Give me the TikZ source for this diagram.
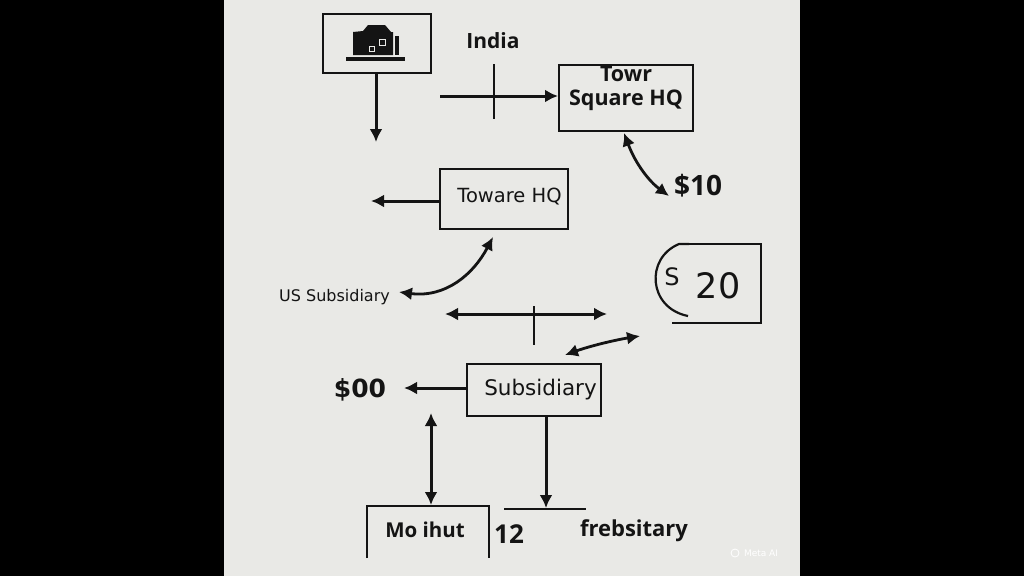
\documentclass[tikz,border=0pt]{standalone}
\usepackage{fontspec}
\setmainfont{DejaVu Sans}
\newfontfamily\opb[BoldFont={Open Sans Bold}]{Open Sans}
\usetikzlibrary{arrows.meta,calc}
\definecolor{panel}{HTML}{E9E9E6}
\definecolor{ink}{HTML}{141414}
\tikzset{
  boxA/.style={draw=ink,line width=1.8pt,fill=none,inner sep=0pt,anchor=north west},
  lbl/.style={text=ink,inner sep=0pt,anchor=center},
  conn/.style={draw=ink,line width=3pt,-{Latex[length=13pt,width=13pt]}},
  conn2/.style={draw=ink,line width=3pt,{Latex[length=13pt,width=13pt]}-{Latex[length=13pt,width=13pt]}},
  curve2/.style={draw=ink,line width=2.8pt,{Latex[length=13pt,width=13pt]}-{Latex[length=13pt,width=13pt]}},
  rule/.style={draw=ink,line width=2.9pt},
  ruleB/.style={draw=ink,line width=2.6pt},
}
\begin{document}
\begin{tikzpicture}[x=1pt,y=-1pt]
\useasboundingbox (0,0) rectangle (1024,576);
\fill[black] (0,0) rectangle (1024,576);
\fill[panel] (224,0) rectangle (800,576);
% top icon box
\node[boxA,minimum width=108pt,minimum height=59pt,line width=2.4pt] (icon) at (322,13) {};
\fill[ink] (353,32) -- (363,31) -- (368,25) -- (385,25) -- (391,32) -- (393,32) -- (393,55) -- (353,55) -- cycle;
\fill[ink] (395,36) rectangle (399,55);
\fill[ink] (346,57) rectangle (405,61);
\draw[panel,line width=1pt] (369,46) rectangle (374,51);
\draw[panel,line width=1pt] (379,39) rectangle (385,45);
\coordinate (iconEnd) at (376,142);
\draw[conn] (icon.south -| iconEnd) -- (iconEnd);
% India
\node[lbl,font=\opb\fontsize{21}{24}\selectfont\bfseries] (india) at (493,41) {India};
\coordinate (cA) at (440,96);
\node[boxA,minimum width=134pt,minimum height=66pt] (tower) at (558,64) {};
\draw[conn] (cA) -- (tower.west |- cA);
\coordinate (tA) at (494,64); \coordinate (tB) at (494,119);
\draw[rule] (tA) -- (tB);
\node[lbl,align=center,font=\opb\fontsize{21.5}{24}\selectfont\bfseries] (towerT) at (626,88) {Towr\\Square HQ};
% $10
\node[lbl,font=\opb\fontsize{28}{30}\selectfont\bfseries] (ten) at (698,186) {\$10};
\coordinate (tenA) at (669,196); \coordinate (towA) at (624,133);
\draw[curve2] (towA) .. controls (636,165) and (650,182) .. (tenA);
% Toware HQ
\node[boxA,minimum width=128pt,minimum height=60pt] (toware) at (439,168) {};
\node[lbl,font=\fontsize{19.5}{22}\selectfont] (towareT) at (509.5,197) {Toware HQ};
\coordinate (wA) at (371,201);
\draw[conn] (toware.west |- wA) -- (wA);
% US Subsidiary
\node[lbl,font=\fontsize{16}{19}\selectfont] (us) at (334.5,297) {US Subsidiary};
\coordinate (uA) at (399,292); \coordinate (uB) at (493,237);
\draw[curve2] (uA) .. controls (445,298) and (473,275) .. (uB);
% S 20
\coordinate (sA) at (689,244); \coordinate (sB) at (761,244); \coordinate (sC) at (761,323); \coordinate (sD) at (672,323);
\draw[ink,line width=2.6pt] (sA) -- (sB) -- (sC) -- (sD);
\draw[ink,line width=2.2pt] (sA) -- (679,244) .. controls (645,258) and (648,308) .. (688,316);
\node[lbl,font=\fontsize{24}{27}\selectfont] (sT) at (672,277) {S};
\node[lbl,font=\fontsize{35}{38}\selectfont] (twenty) at (718,286) {20};
% mid double arrow
\coordinate (mA) at (445,314); \coordinate (mB) at (607,314);
\draw[conn2] (mA) -- (mB);
\coordinate (mC) at (534,306); \coordinate (mD) at (534,345);
\draw[rule] (mC) -- (mD);
\coordinate (dA) at (565,355); \coordinate (dB) at (640,336);
\draw[curve2] (dA) .. controls (590,346) and (615,340) .. (dB);
% Subsidiary
\node[boxA,minimum width=134pt,minimum height=52pt] (sub) at (466,363) {};
\node[lbl,font=\fontsize{21.5}{24}\selectfont] (subT) at (540.5,390) {Subsidiary};
\node[lbl,font=\fontsize{25}{28}\selectfont\bfseries] (zero) at (360,390) {\$00};
\coordinate (zA) at (404,388);
\draw[conn] (sub.west |- zA) -- (zA);
% vertical arrows
\coordinate (vA) at (431,413); \coordinate (vB) at (431,505);
\draw[conn2] (vA) -- (vB);
\coordinate (wB) at (546,508);
\draw[conn] (sub.south -| wB) -- (wB);
% bottom
\coordinate (bA) at (367,558); \coordinate (bB) at (367,506); \coordinate (bC) at (489,506); \coordinate (bD) at (489,558);
\draw[ruleB] (bA) -- (bB) -- (bC) -- (bD);
\node[lbl,font=\opb\fontsize{20.5}{24}\selectfont\bfseries] (mo) at (425,530) {Mo ihut};
\node[lbl,font=\opb\fontsize{26}{29}\selectfont\bfseries] (twelve) at (509,534) {12};
\coordinate (rA) at (504,509); \coordinate (rB) at (586,509);
\draw[ruleB] (rA) -- (rB);
\node[lbl,font=\opb\fontsize{22}{24}\selectfont\bfseries] (feb) at (634,531) {frebsitary};
% watermark
\draw[white,line width=0.8pt] (735,553) circle (4pt);
\node[lbl,text=white,font=\fontsize{9}{11}\selectfont] (meta) at (761,553) {Meta AI};
\end{tikzpicture}
\end{document}
